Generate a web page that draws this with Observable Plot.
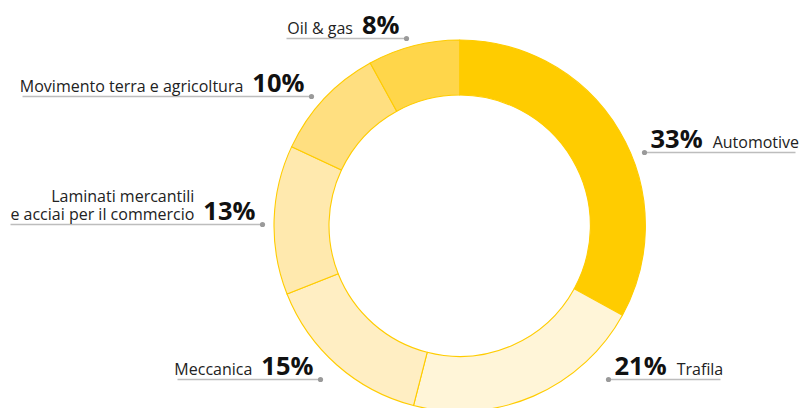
<!DOCTYPE html>
<html><head><meta charset="utf-8">
<script src="https://cdn.jsdelivr.net/npm/d3@7"></script>
<script src="https://cdn.jsdelivr.net/npm/@observablehq/plot@0.6"></script>
<style>html,body{margin:0;padding:0;background:#fff} svg{display:block}</style>
</head><body><div id="chart"></div>
<script>
// ---- data ----
const categories = ["Automotive", "Trafila", "Meccanica", "Laminati mercantili\ne acciai per il commercio", "Movimento terra e agricoltura", "Oil & gas"];
const shares = [33, 21, 15, 13, 10, 8];
const colors = ["#FFCC00", "#FFF5D8", "#FFEEC3", "#FFE9AE", "#FFDF80", "#FFD64A"];

// ---- layout (annotation placement) ----
const W = 801, H = 408;
const center = {x: 459.7, y: 225.7};
const outerR = 185.7, innerR = 130.7;
const labelLineY = [152, 379, 379, 224, 96, 38];
const labelDotX = [644, 608, 320, 262, 311, 406];
const labelEndX = [795, 720, 177, 10, 22, 286];

const FONT = "'Open Sans', sans-serif";
const nameSize = 16, pctSize = 25.5;

const ctx = document.createElement("canvas").getContext("2d");
function textW(s, size, weight) { ctx.font = `${weight} ${size}px ${FONT}`; return ctx.measureText(s).width; }

const data = categories.map((c, i) => ({category: c, share: shares[i], color: colors[i]}));
const arcs = d3.pie().sort(null).value(d => d.share)(data);

const labels = data.map((d, i) => {
  const right = labelEndX[i] > labelDotX[i];
  const pct = `${d.share}%`;
  const pw = textW(pct, pctSize, 700);
  const y = labelLineY[i];
  let pctX, nameX;
  if (right) { pctX = labelDotX[i] + 6; nameX = pctX + pw + 10; }
  else { pctX = labelDotX[i] - 7; nameX = pctX - pw - 9; }
  return {...d, pct, right, y, ty: y - 5, dotX: labelDotX[i], endX: labelEndX[i], pctX, nameX};
});
const rightLabels = labels.filter(d => d.right);
const leftLabels = labels.filter(d => !d.right);

function donut(index, scales) {
  const sx = scales && scales.x ? scales.x : (v => v);
  const sy = scales && scales.y ? scales.y : (v => v);
  const arc = d3.arc().innerRadius(innerR).outerRadius(outerR);
  const g = d3.create("svg:g").attr("transform", `translate(${sx(center.x)},${sy(center.y)})`);
  g.selectAll("path").data(arcs).join("path")
    .attr("d", arc)
    .attr("fill", a => a.data.color)
    .attr("stroke", "#FFCC00")
    .attr("stroke-width", 1.1)
    .attr("stroke-linejoin", "round");
  return g.node();
}

const chart = Plot.plot({
  width: W, height: H, margin: 0,
  style: {background: "#fff", fontFamily: FONT},
  x: {domain: [0, W], range: [0, W], axis: null},
  y: {domain: [0, H], range: [0, H], axis: null},
  marks: [
    donut,
    Plot.link(labels, {x1: "endX", x2: "dotX", y1: "y", y2: "y", stroke: "#bdbdbd", strokeWidth: 1.6}),
    Plot.dot(labels, {x: "dotX", y: "y", r: 2.6, fill: "#9a9a9a"}),
    Plot.text(rightLabels, {x: "pctX", y: "ty", text: "pct", textAnchor: "start", lineAnchor: "bottom", fontSize: pctSize, fontWeight: 700, fill: "#111"}),
    Plot.text(leftLabels, {x: "pctX", y: "ty", text: "pct", textAnchor: "end", lineAnchor: "bottom", fontSize: pctSize, fontWeight: 700, fill: "#111"}),
    Plot.text(rightLabels, {x: "nameX", y: "ty", text: "category", textAnchor: "start", lineAnchor: "bottom", fontSize: nameSize, fill: "#222"}),
    Plot.text(leftLabels, {x: "nameX", y: "ty", text: "category", textAnchor: "end", lineAnchor: "bottom", lineHeight: 1.12, fontSize: nameSize, fill: "#222"})
  ]
});
document.getElementById("chart").append(chart);
</script>
</body></html>
